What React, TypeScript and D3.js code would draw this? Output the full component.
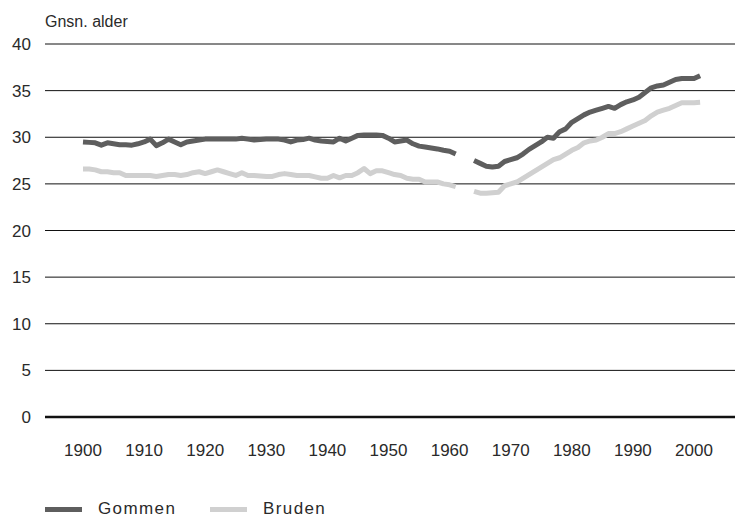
import React from "react";
import * as d3 from "d3";

const years: number[] = d3.range(1900, 2002);

const gommen: (number | null)[] = [
  29.5, 29.45, 29.4, 29.15, 29.4, 29.3, 29.2, 29.2, 29.15, 29.3,
  29.5, 29.8, 29.1, 29.4, 29.8, 29.5, 29.2, 29.5, 29.6, 29.7,
  29.8, 29.8, 29.8, 29.8, 29.8, 29.8, 29.9, 29.8, 29.7, 29.75,
  29.8, 29.8, 29.8, 29.7, 29.5, 29.7, 29.75, 29.9, 29.7, 29.6,
  29.55, 29.5, 29.9, 29.6, 29.9, 30.2, 30.25, 30.25, 30.25, 30.2,
  29.9, 29.5, 29.6, 29.7, 29.3, 29.05, 28.95, 28.85, 28.75, 28.6,
  28.5, 28.2, null, null, 27.5, 27.2, 26.9, 26.8, 26.9, 27.4,
  27.6, 27.8, 28.2, 28.7, 29.1, 29.5, 30.0, 29.9, 30.6, 30.9,
  31.6, 32.0, 32.4, 32.7, 32.9, 33.1, 33.3, 33.1, 33.5, 33.8,
  34.0, 34.3, 34.8, 35.3, 35.5, 35.6, 35.9, 36.2, 36.3, 36.3,
  36.3, 36.6,
];

const bruden: (number | null)[] = [
  26.6, 26.6, 26.5, 26.3, 26.3, 26.2, 26.2, 25.9, 25.9, 25.9,
  25.9, 25.9, 25.8, 25.9, 26.0, 26.0, 25.9, 26.0, 26.2, 26.3,
  26.1, 26.3, 26.5, 26.3, 26.1, 25.9, 26.2, 25.9, 25.9, 25.85,
  25.8, 25.8, 26.0, 26.1, 26.0, 25.9, 25.9, 25.9, 25.75, 25.6,
  25.6, 25.9, 25.65, 25.9, 25.9, 26.2, 26.65, 26.1, 26.4, 26.4,
  26.2, 26.0, 25.9, 25.6, 25.5, 25.5, 25.2, 25.2, 25.2, 25.0,
  24.9, 24.7, null, null, 24.2, 24.0, 24.0, 24.05, 24.1, 24.8,
  25.0, 25.2, 25.6, 26.0, 26.4, 26.8, 27.2, 27.6, 27.8, 28.2,
  28.6, 28.9, 29.4, 29.6, 29.7, 30.0, 30.4, 30.4, 30.6, 30.9,
  31.2, 31.5, 31.8, 32.3, 32.7, 32.9, 33.1, 33.4, 33.7, 33.7,
  33.7, 33.75,
];

const yTicks: number[] = [0, 5, 10, 15, 20, 25, 30, 35, 40];
const xTicks: number[] = [1900, 1910, 1920, 1930, 1940, 1950, 1960, 1970, 1980, 1990, 2000];
const seriesNames: string[] = ["Gommen", "Bruden"];
const seriesColors: string[] = ["#5e5e5e", "#d0d0d0"];
const yTitle = "Gnsn. alder";

export default function App() {
  const W = 735;
  const H = 518;
  const x = d3.scaleLinear().domain([1900, 2000]).range([83, 694]);
  const y = d3.scaleLinear().domain([0, 40]).range([417, 44]);
  const font = "'Liberation Sans', Arial, Helvetica, sans-serif";

  const line = d3
    .line<[number, number | null]>()
    .defined((d) => d[1] != null)
    .x((d) => x(d[0]))
    .y((d) => y(d[1] as number));

  const series = [gommen, bruden].map((vals) =>
    years.map((yr, i) => [yr, vals[i]] as [number, number | null])
  );

  return (
    <svg
      width={W}
      height={H}
      style={{ position: "absolute", left: 0, top: 0, background: "#fff" }}
    >
      <text x={45} y={26.5} fontFamily={font} fontSize={16} fill="#2a2a2a">
        {yTitle}
      </text>
      {yTicks.map((t) => (
        <g key={t}>
          <line
            x1={45}
            x2={735}
            y1={y(t)}
            y2={y(t)}
            stroke="#111"
            strokeWidth={t === 0 ? 2.5 : 1}
          />
          <text
            x={31}
            y={y(t) + 6}
            textAnchor="end"
            fontFamily={font}
            fontSize={17}
            fill="#2a2a2a"
          >
            {t}
          </text>
        </g>
      ))}
      {xTicks.map((t) => (
        <text
          key={t}
          x={x(t)}
          y={456}
          textAnchor="middle"
          fontFamily={font}
          fontSize={17}
          fill="#2a2a2a"
        >
          {t}
        </text>
      ))}
      {series.map((s, i) => (
        <path
          key={i}
          d={line(s) || ""}
          fill="none"
          stroke={seriesColors[i]}
          strokeWidth={5}
          strokeLinejoin="round"
        />
      ))}
      {seriesNames.map((n, i) => (
        <g key={n}>
          <line
            x1={45 + i * 165}
            x2={82 + i * 165}
            y1={509.5}
            y2={509.5}
            stroke={seriesColors[i]}
            strokeWidth={5}
          />
          <text
            x={98 + i * 165}
            y={514}
            fontFamily={font}
            fontSize={17}
            letterSpacing={1.4}
            fill="#2a2a2a"
          >
            {n}
          </text>
        </g>
      ))}
    </svg>
  );
}
